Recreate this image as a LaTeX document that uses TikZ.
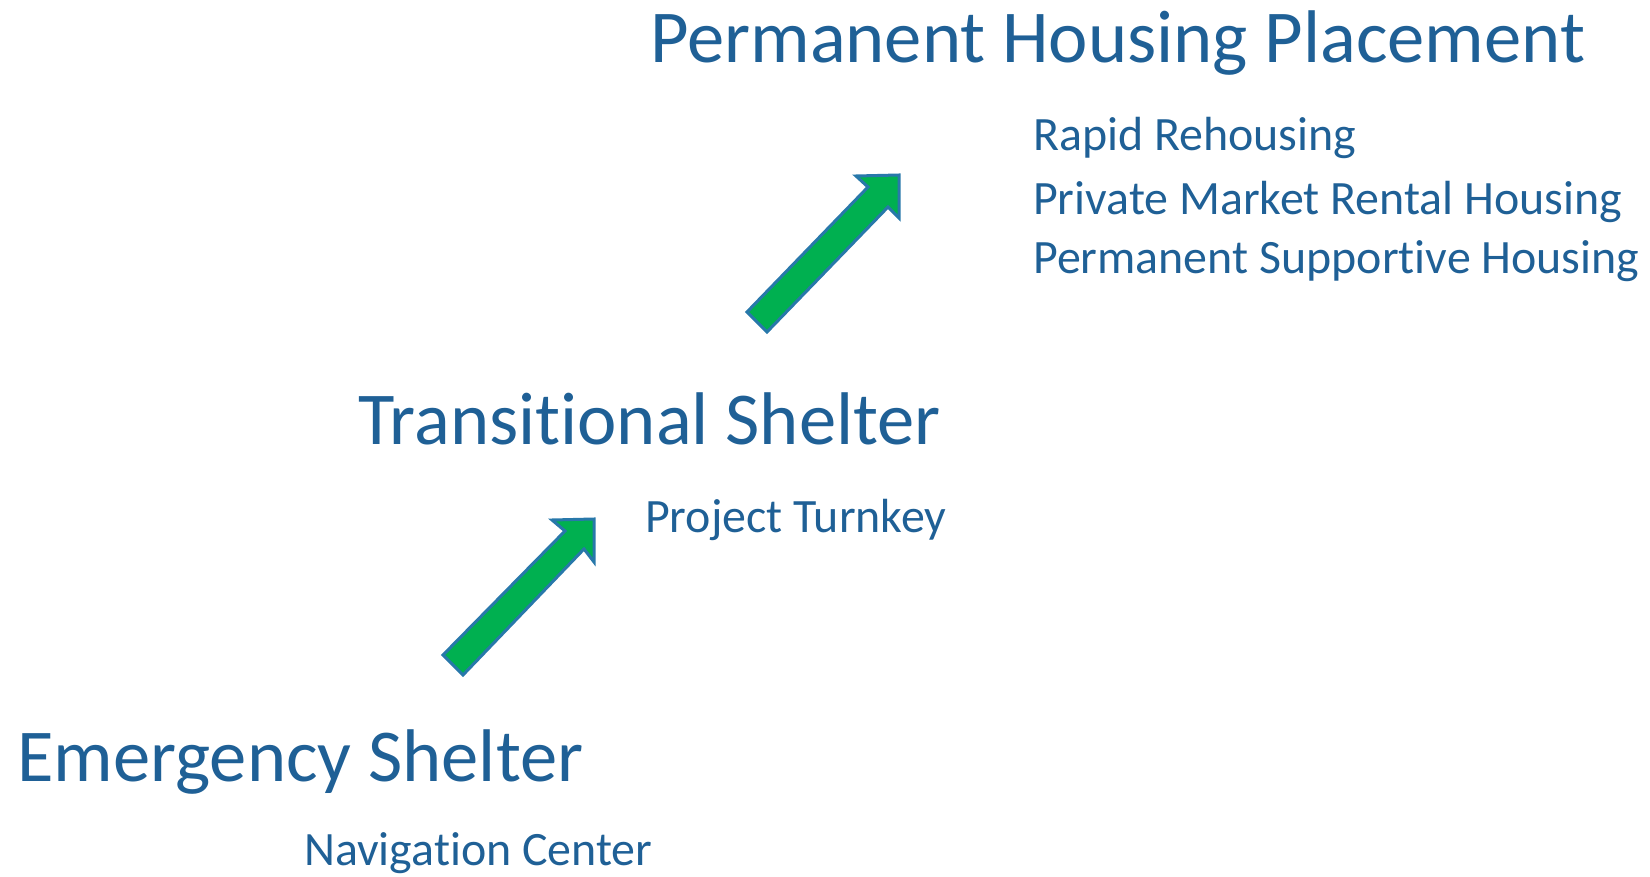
\documentclass[tikz,border=0pt]{standalone}
\usepackage{fontspec}
\setmainfont{Carlito}[Ligatures=NoCommon]
\usepackage{tikz}
\usetikzlibrary{positioning}
\definecolor{stagetext}{RGB}{31,96,150}
\definecolor{arrowfill}{RGB}{0,176,80}
\definecolor{arrowline}{RGB}{40,120,170}

\begin{document}
\begin{tikzpicture}[x=1pt,y=-1pt,
	stage/.style={anchor=base west,inner sep=0pt,text=stagetext,font=\fontsize{74.6}{90}\selectfont},
	option/.style={anchor=base west,inner sep=0pt,text=stagetext,font=\fontsize{47.9}{58}\selectfont},
	blockarrow/.style={fill=arrowfill,draw=arrowline,line width=3pt,line join=miter}]
			\useasboundingbox (0,0) rectangle (1650,877);

			\node[stage] (permanent) at (650, 63) {Permanent Housing Placement};
			\node[stage] (transitional) at (358, 444) {Transitional Shelter};
			\node[stage] (emergency) at (17, 781) {Emergency Shelter};

			\node[option] (rapid) at (1033, 151) {Rapid Rehousing};
			\node[option] (privatemarket) at (1033, 215) {Private Market Rental Housing};
			\node[option] (supportive) at (1033, 274) {Permanent Supportive Housing};
			\node[option] (turnkey) at (645, 532) {Project Turnkey};
			\node[option] (navcenter) at (304, 865) {Navigation Center};

			% emergency -> transitional
			\draw[blockarrow] (443,655) -- (565,531) -- (552,520) -- (594,519)
				-- (594,562) -- (584,549) -- (463,675) -- cycle;
			% transitional -> permanent
			\draw[blockarrow] (747,312) -- (868,187) -- (856,176) -- (899,175)
				-- (899,218) -- (888,207) -- (767,332) -- cycle;
		\end{tikzpicture}
\end{document}
